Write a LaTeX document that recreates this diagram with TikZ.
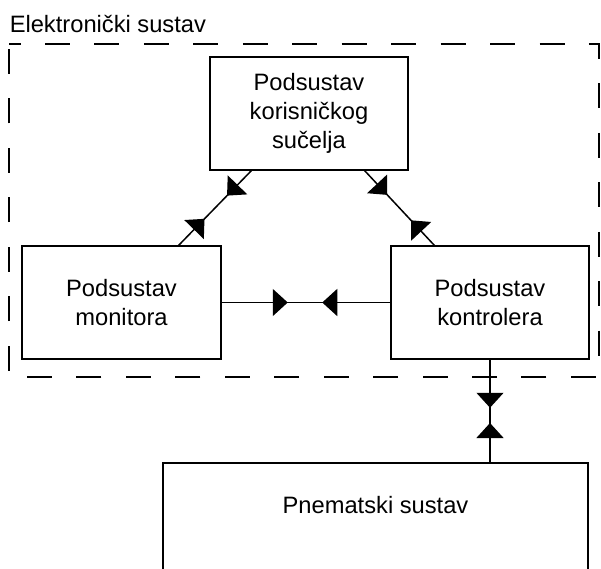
\documentclass[tikz,border=0pt]{standalone}
\usepackage{fontspec}
\setmainfont{Liberation Sans}
\usetikzlibrary{arrows.meta,decorations.markings}

\begin{document}
\begin{tikzpicture}[x=1pt,y=-1pt,line width=1.5pt,
    >={Triangle[length=15pt,width=27pt]},
    block/.style={draw,rectangle,inner sep=0pt,align=center,
        minimum height=113pt,font=\fontsize{23.7}{28.8}\selectfont},
    link/.style 2 args={postaction={decorate},decoration={markings,
        mark=at position #1 with {\arrow{>}},
        mark=at position -#2 with {\arrowreversed{>}}}}]
    \useasboundingbox (0,0) rectangle (601,568);

    % Electronic system frame
    \draw[dash pattern=on 25pt off 24.45pt,dash phase=13.45pt]
        (9,44) -- (599,44) -- (599,377) -- (9,377) -- cycle;
    \node[anchor=base west,inner sep=0pt,font=\fontsize{23.7}{28.8}\selectfont]
        (syslabel) at (9,32) {Elektronički sustav};

    % Subsystems
    \node[block,minimum width=198pt] (ui) at (309,113.5) {Podsustav\\korisničkog\\sučelja};
    \node[block,minimum width=199pt] (mon) at (121.5,302.5) {Podsustav\\monitora};
    \node[block,minimum width=198pt] (ctl) at (490,302.5) {Podsustav\\kontrolera};

    % Pneumatic system
    \node[draw,rectangle,anchor=north,inner sep=0pt,minimum width=425pt,
        text height=51pt,text depth=120pt,font=\fontsize{23.7}{28.8}\selectfont]
        (pne) at (375.5,462) {Pnematski sustav};

    % Connections
    \draw[link={34.7pt}{36.8pt}] ([xshift=42pt]ui.south west) -- ([xshift=-43pt]mon.north east);
    \draw[link={33pt}{34pt}] ([xshift=-44pt]ui.south east) -- ([xshift=44pt]ctl.north west);
    \draw[link={66pt}{68pt}] (mon.east) -- (ctl.west);
    \draw[link={48pt}{39pt}] (ctl.south) -- (ctl.south |- pne.north);
\end{tikzpicture}
\end{document}
